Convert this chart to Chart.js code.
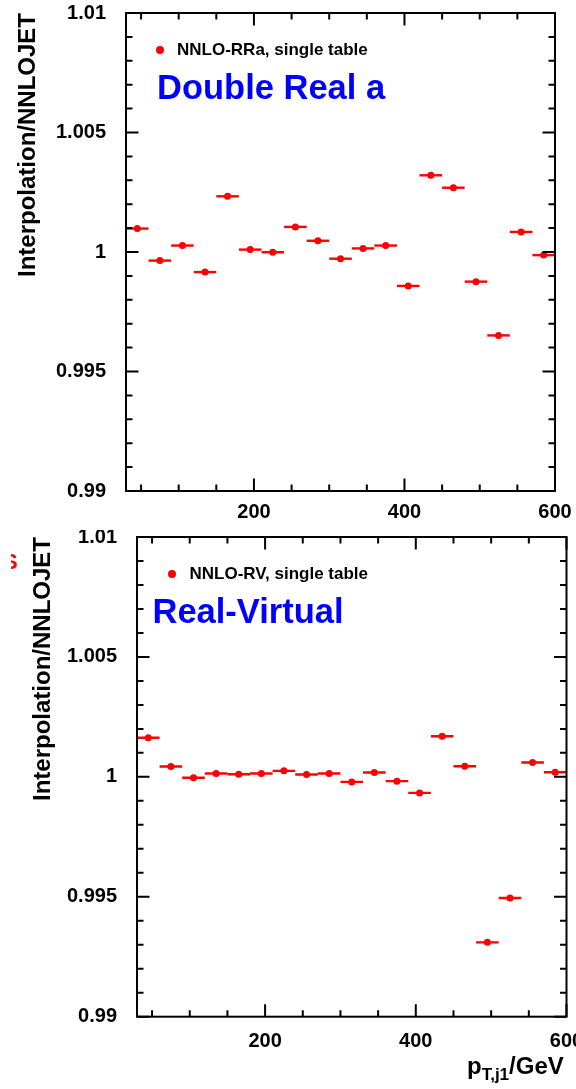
<!DOCTYPE html>
<html>
<head>
<meta charset="utf-8">
<script src="https://cdn.jsdelivr.net/npm/chart.js@4.4.0/dist/chart.umd.min.js"></script>
<style>
  html, body { margin: 0; padding: 0; background: #ffffff; }
  body { width: 576px; height: 1089px; position: relative; overflow: hidden; font-family: "Liberation Sans", Arial, Helvetica, sans-serif; }
  canvas { position: absolute; left: 0; }
  .lbl { position: absolute; white-space: nowrap; font-weight: bold; line-height: 1; }
  .dot { position: absolute; width: 8px; height: 8px; border-radius: 50%; background: #ff0000; }
</style>
</head>
<body>
<canvas id="c1" width="576" height="530" style="top:0px;width:576px;height:530px"></canvas>
<canvas id="c2" width="576" height="559" style="top:530px;width:576px;height:559px"></canvas>

<div class="dot" style="left:156px;top:46px"></div>
<div class="lbl" style="left:177px;top:41px;font-size:17px;color:#000">NNLO-RRa, single table</div>
<div class="lbl" style="left:157px;top:70px;font-size:34.5px;color:#0000ff">Double Real a</div>

<div class="dot" style="left:168px;top:570px"></div>
<div class="lbl" style="left:189.5px;top:565px;font-size:17px;color:#000">NNLO-RV, single table</div>
<div class="lbl" style="left:152.5px;top:593.5px;font-size:34.5px;color:#0000ff">Real-Virtual</div>

<div style="position:absolute;left:11px;top:549px;width:8px;height:24px;overflow:hidden">
  <div class="lbl" style="position:absolute;left:-8px;top:2px;font-size:22px;color:#ff0000">S</div>
</div>

<div class="lbl" style="left:467px;top:1054px;font-size:24px;color:#000">p<span style="position:relative;top:0.36em;font-size:17px">T,j1</span>/GeV</div>

<script>
// ---- data ----
const binLow  = [30, 60, 90, 120, 150, 180, 210, 240, 270, 300, 330, 360, 390, 420, 450, 480, 510, 540, 570];
const binHigh = [60, 90, 120, 150, 180, 210, 240, 270, 300, 330, 360, 390, 420, 450, 480, 510, 540, 570, 600];
const ratioRRa = [1.00098, 0.99964, 1.00027, 0.99916, 1.00233, 1.00010, 0.99999, 1.00105, 1.00047, 0.99972,
                  1.00015, 1.00027, 0.99858, 1.00321, 1.00269, 0.99876, 0.99651, 1.00084, 0.99987];
const ratioRV  = [1.00163, 1.00043, 0.99996, 1.00014, 1.00011, 1.00014, 1.00025, 1.00010, 1.00014, 0.99979,
                  1.00018, 0.99982, 0.99933, 1.00169, 1.00044, 0.99310, 0.99495, 1.00060, 1.00019];
const xTickLabels = [200, 400, 600];
const xMinorTicks = [50, 100, 150, 250, 300, 350, 450, 500, 550];
const yTickValues = [0.99, 0.995, 1, 1.005, 1.01];
const yTickLabels = ['0.99', '0.995', '1', '1.005', '1.01'];
const yTitle = 'Interpolation/NNLOJET';

const FONT = '"Liberation Sans", Arial, Helvetica, sans-serif';

const yMinorTicks = [];
for (let k = 0; k <= 20; k++) yMinorTicks.push(0.99 + k * 0.001);

const framePlugin = {
  id: 'frameAndBars',
  beforeDatasetsDraw(chart) {
    const ctx = chart.ctx, xs = chart.scales.x, ys = chart.scales.y, a = chart.chartArea;
    const vals = chart.data.datasets[0].data;
    ctx.save();
    ctx.beginPath(); ctx.rect(a.left, a.top, a.right - a.left, a.bottom - a.top); ctx.clip();
    ctx.strokeStyle = '#ff0000'; ctx.lineWidth = 2.4;
    vals.forEach((p, i) => {
      const y = ys.getPixelForValue(p.y);
      ctx.beginPath();
      ctx.moveTo(xs.getPixelForValue(binLow[i]), y);
      ctx.lineTo(xs.getPixelForValue(binHigh[i]), y);
      ctx.stroke();
    });
    ctx.restore();
  },
  afterDatasetsDraw(chart) {
    const ctx = chart.ctx, xs = chart.scales.x, ys = chart.scales.y, a = chart.chartArea;
    ctx.save();
    ctx.strokeStyle = '#000'; ctx.lineWidth = 2;
    const MAJ = 12.5, MIN = 6.5;
    ctx.beginPath();
    const xt = xMinorTicks.map(v => [v, MIN]).concat(xTickLabels.map(v => [v, MAJ]));
    xt.forEach(([v, L]) => {
      const x = xs.getPixelForValue(v);
      ctx.moveTo(x, a.bottom); ctx.lineTo(x, a.bottom - L);
      ctx.moveTo(x, a.top); ctx.lineTo(x, a.top + L);
    });
    yMinorTicks.forEach((v, k) => {
      const L = (k % 5 === 0) ? MAJ : MIN;
      const y = ys.getPixelForValue(v);
      ctx.moveTo(a.left, y); ctx.lineTo(a.left + L, y);
      ctx.moveTo(a.right, y); ctx.lineTo(a.right - L, y);
    });
    ctx.stroke();
    ctx.strokeRect(a.left, a.top, a.right - a.left, a.bottom - a.top);
    ctx.restore();
  }
};

function makeChart(id, values, o) {
  const data = values.map((v, i) => ({ x: (binLow[i] + binHigh[i]) / 2, y: v }));
  return new Chart(document.getElementById(id), {
    type: 'scatter',
    data: { datasets: [{ data, backgroundColor: '#ff0000', borderColor: '#ff0000', borderWidth: 0, pointRadius: 3.5, pointHoverRadius: 3.5 }] },
    options: {
      responsive: false, animation: false, events: [],
      layout: { padding: { left: 0, top: o.top, right: o.right, bottom: 0 } },
      plugins: { legend: { display: false }, tooltip: { enabled: false } },
      scales: {
        x: {
          type: 'linear', min: 30, max: 600,
          afterBuildTicks: s => { s.ticks = xTickLabels.map(v => ({ value: v })); },
          afterFit: s => { s.height = o.xh; s.paddingLeft = 0; s.paddingRight = 0; },
          grid: { display: false, drawTicks: false }, border: { display: false },
          ticks: { padding: o.xpad, color: '#000', autoSkip: false, maxRotation: 0, font: { family: FONT, size: 20, weight: 'bold' }, callback: v => String(v) }
        },
        y: {
          type: 'linear', min: 0.99, max: 1.01,
          afterBuildTicks: s => { s.ticks = yTickValues.map(v => ({ value: v })); },
          afterFit: s => { s.width = o.yw; s.paddingTop = 0; s.paddingBottom = 0; },
          grid: { display: false, drawTicks: false }, border: { display: false },
          ticks: { padding: 20, color: '#000', autoSkip: false, font: { family: FONT, size: 20, weight: 'bold' }, callback: (v, i) => yTickLabels[i] },
          title: { display: true, text: yTitle, align: 'end', color: '#000', font: { family: FONT, size: 24, weight: 'bold' }, padding: { top: o.tpad, bottom: 0 } }
        }
      }
    },
    plugins: [framePlugin]
  });
}

makeChart('c1', ratioRRa, { top: 13, right: 21, xh: 39, yw: 126, xpad: 9, tpad: 13.5 });
makeChart('c2', ratioRV,  { top: 7, right: 9.5, xh: 72.3, yw: 137, xpad: 12.8, tpad: 29 });
</script>
</body>
</html>
